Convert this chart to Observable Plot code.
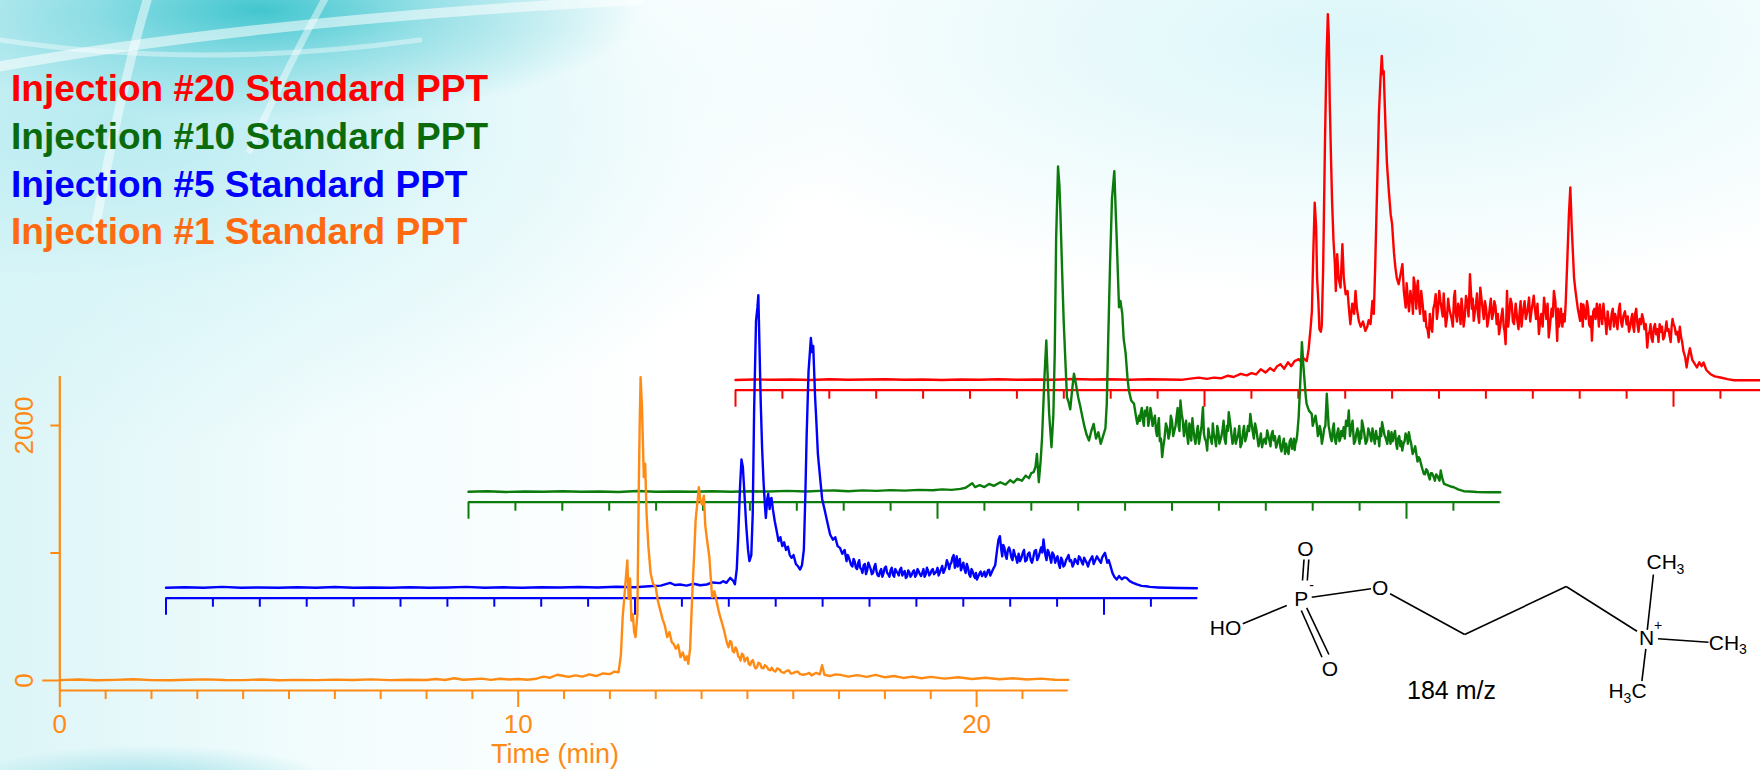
<!DOCTYPE html>
<html>
<head>
<meta charset="utf-8">
<script src="https://cdn.jsdelivr.net/npm/d3@7"></script>
<script src="https://cdn.jsdelivr.net/npm/@observablehq/plot@0.6"></script>
<style>
  html, body { margin: 0; padding: 0; background: #fff; }
  #stage {
    position: relative; width: 1760px; height: 770px; overflow: hidden;
    font-family: "Liberation Sans", Arial, sans-serif;
    background:
      radial-gradient(ellipse 380px 110px at 260px 10px, rgba(40,190,200,0.85) 0%, rgba(90,205,215,0.55) 45%, rgba(190,238,242,0) 100%),
      radial-gradient(ellipse 720px 330px at 120px 120px, rgba(180,234,240,0.95) 0%, rgba(212,244,247,0.6) 50%, rgba(255,255,255,0) 100%),
      radial-gradient(ellipse 190px 40px at 150px 785px, rgba(90,200,215,0.55), rgba(255,255,255,0) 100%),
      radial-gradient(ellipse 700px 260px at 1350px 40px, rgba(218,246,249,0.95), rgba(255,255,255,0) 100%),
      linear-gradient(90deg, #dcf5f7 0%, #f2fcfd 18%, #ffffff 38%);
  }
  #stage svg.layer { position: absolute; left: 0; top: 0; max-width: none !important; }
  .legend { position: absolute; left: 11px; top: 65px; font-weight: bold; font-size: 37px; line-height: 47.8px; white-space: nowrap; }
</style>
</head>
<body>
<div id="stage">
  <svg class="layer" width="1760" height="770" style="pointer-events:none">
    <g fill="none" stroke="#ffffff" stroke-linecap="round">
      <path d="M -20 70 Q 250 20 640 0" stroke-width="10" stroke-opacity="0.55"/>
      <path d="M 150 -10 Q 120 90 95 230" stroke-width="9" stroke-opacity="0.5"/>
      <path d="M 330 -10 Q 290 60 250 150" stroke-width="7" stroke-opacity="0.45"/>
      <path d="M 0 40 Q 200 70 420 40" stroke-width="5" stroke-opacity="0.4"/>
    </g>
  </svg>
  <div class="legend">
    <div style="color:#ff0000">Injection #20 Standard PPT</div>
    <div style="color:#0b6b0b">Injection #10 Standard PPT</div>
    <div style="color:#0000ff">Injection #5 Standard PPT</div>
    <div style="color:#ff6a10">Injection #1 Standard PPT</div>
  </div>
</div>
<script>
// ---------- data: [time (min), intensity] ----------
const injection1 = [[0,3],[0.4,8],[0.8,2],[1.2,5],[1.6,10],[2.0,3],[2.4,2],[2.8,6],[3.2,9],[3.6,4],[4.0,3],[4.4,8],[4.8,2],[5.2,5],[5.6,3],[6.0,7],[6.4,4],[6.8,9],[7.2,3],[7.6,6],[8.0,4],[8.2,12],[8.4,4],[8.6,18],[8.8,6],[9.0,10],[9.2,15],[9.4,5],[9.6,14],[9.8,8],[10.0,12],[10.2,6],[10.4,14],[10.55,30],[10.7,22],[10.85,45],[11.0,35],[11.1,28],[11.25,40],[11.4,30],[11.55,48],[11.7,35],[11.85,55],[12.0,50],[12.1,70],[12.19,65],[12.24,200],[12.28,500],[12.33,720],[12.38,941],[12.41,640],[12.44,800],[12.47,470],[12.5,520],[12.53,380],[12.56,340],[12.6,520],[12.63,1500],[12.65,2000],[12.67,2379],[12.7,2144],[12.74,1595],[12.77,1700],[12.8,1310],[12.84,1050],[12.89,839],[12.94,760],[13.0,733],[13.05,620],[13.1,550],[13.15,480],[13.2,430],[13.25,340],[13.3,380],[13.35,300],[13.39,287],[13.44,250],[13.49,280],[13.54,183],[13.59,220],[13.64,160],[13.68,190],[13.71,131],[13.75,250],[13.8,700],[13.84,1000],[13.87,1255],[13.91,1400],[13.94,1516],[13.97,1420],[14.01,1380],[14.05,1450],[14.08,1220],[14.12,1100],[14.17,967],[14.23,653],[14.28,700],[14.34,601],[14.39,520],[14.45,446],[14.5,380],[14.56,288],[14.62,310],[14.68,230],[14.74,260],[14.8,190],[14.85,157],[14.91,200],[14.97,170],[15.03,130],[15.09,150],[15.15,115],[15.21,105],[15.28,130],[15.35,95],[15.42,110],[15.5,80],[15.57,78],[15.65,95],[15.75,65],[15.85,75],[15.95,55],[16.05,68],[16.15,50],[16.3,52],[16.4,40],[16.5,60],[16.58,48],[16.63,120],[16.68,45],[16.8,35],[16.92,48],[17.03,44],[17.2,30],[17.4,42],[17.6,28],[17.8,44],[18.0,25],[18.2,35],[18.4,20],[18.6,30],[18.8,18],[19.0,28],[19.3,15],[19.6,25],[19.9,12],[20.2,22],[20.5,10],[20.8,18],[21.1,8],[21.4,15],[21.7,6],[22.0,5]];
const injection1Detail = [[14.53,330],[14.59,260],[14.65,300],[14.71,220],[14.77,240],[14.83,180],[14.88,210],[14.94,150],[15.0,180],[15.06,120],[15.12,160],[15.18,95],[15.24,140],[15.31,100],[15.38,120],[15.46,85],[15.53,100],[15.61,70],[15.7,85],[15.8,60],[15.9,80],[16.0,58],[16.1,70],[16.22,45],[16.35,60]];

const injection5 = [[0,4],[0.4,8],[0.8,3],[1.2,10],[1.6,4],[2.0,6],[2.4,3],[2.8,7],[3.2,4],[3.6,9],[4.0,3],[4.4,6],[4.8,4],[5.2,8],[5.6,3],[6.0,6],[6.4,10],[6.8,4],[7.2,7],[7.6,3],[8.0,8],[8.4,5],[8.8,9],[9.2,6],[9.6,11],[10.0,8],[10.3,15],[10.55,20],[10.75,42],[10.85,25],[10.96,29],[11.1,20],[11.25,35],[11.39,23],[11.53,29],[11.65,45],[11.81,40],[11.88,55],[11.95,42],[12.03,81],[12.1,55],[12.13,30],[12.17,150],[12.2,400],[12.24,800],[12.27,1009],[12.3,950],[12.34,700],[12.37,500],[12.41,300],[12.44,212],[12.48,260],[12.51,580],[12.54,1400],[12.58,2094],[12.61,2200],[12.63,2298],[12.66,1800],[12.68,1467],[12.71,1100],[12.74,840],[12.77,650],[12.79,551],[12.82,700],[12.84,740],[12.87,620],[12.89,700],[12.91,708],[12.94,620],[12.98,525],[13.02,450],[13.06,370],[13.1,400],[13.14,330],[13.18,360],[13.22,300],[13.26,326],[13.3,260],[13.34,238],[13.38,260],[13.43,190],[13.48,170],[13.52,146],[13.56,180],[13.6,300],[13.63,700],[13.66,1200],[13.7,1700],[13.75,1962],[13.78,1850],[13.8,1900],[13.84,1500],[13.87,1284],[13.9,1050],[13.94,892],[13.99,700],[14.05,604],[14.1,520],[14.16,421],[14.22,380],[14.27,400],[14.32,330],[14.37,316],[14.42,270],[14.47,300],[14.51,212],[14.56,240],[14.61,180],[14.66,230],[14.71,160],[14.76,200],[14.8,160],[14.85,120],[14.9,190],[14.95,140],[15.0,175],[15.05,110],[15.1,165],[15.15,130],[15.2,95],[15.25,150],[15.3,120],[15.35,170],[15.4,110],[15.45,140],[15.5,105],[15.55,150],[15.6,120],[15.65,146],[15.7,100],[15.75,135],[15.8,90],[15.85,125],[15.9,105],[15.95,140],[16.0,107],[16.05,130],[16.1,95],[16.15,150],[16.2,110],[16.25,135],[16.3,115],[16.35,150],[16.4,120],[16.45,160],[16.5,125],[16.55,175],[16.6,140],[16.65,220],[16.7,150],[16.72,186],[16.77,240],[16.82,160],[16.86,250],[16.9,190],[16.95,140],[17.0,200],[17.05,120],[17.1,160],[17.15,90],[17.2,130],[17.25,80],[17.29,68],[17.34,110],[17.4,95],[17.45,130],[17.5,107],[17.55,145],[17.6,120],[17.65,160],[17.68,180],[17.72,300],[17.75,380],[17.78,408],[17.81,300],[17.85,340],[17.9,260],[17.95,300],[18.0,290],[18.05,220],[18.1,260],[18.15,200],[18.21,212],[18.27,280],[18.32,210],[18.38,270],[18.44,220],[18.49,238],[18.55,300],[18.6,240],[18.66,320],[18.71,382],[18.75,260],[18.8,300],[18.85,238],[18.9,280],[18.96,200],[19.01,250],[19.06,160],[19.11,220],[19.16,180],[19.22,240],[19.27,212],[19.33,170],[19.38,230],[19.44,190],[19.49,240],[19.55,185],[19.6,220],[19.66,170],[19.72,230],[19.78,190],[19.85,250],[19.91,212],[19.96,240],[20.02,277],[20.07,200],[20.13,185],[20.18,120],[20.22,90],[20.27,68],[20.32,95],[20.38,70],[20.43,85],[20.48,81],[20.55,55],[20.62,42],[20.7,30],[20.8,18],[20.9,15],[20.98,10],[21.15,6],[21.34,3],[21.6,1],[21.98,0]];
const injection5Detail = [[14.535,260],[14.585,210],[14.635,170],[14.685,210],[14.735,150],[14.78,220],[14.825,150],[14.875,180],[14.925,110],[14.975,200],[15.025,150],[15.075,120],[15.125,190],[15.175,100],[15.225,130],[15.275,90],[15.325,160],[15.375,120],[15.425,90],[15.475,160],[15.525,90],[15.575,130],[15.625,100],[15.675,160],[15.725,120],[15.775,80],[15.825,140],[15.875,90],[15.925,130],[15.975,90],[16.025,150],[16.075,110],[16.125,120],[16.175,90],[16.225,160],[16.275,100],[16.325,140],[16.375,110],[16.425,130],[16.475,100],[16.525,150],[16.575,120],[16.625,170],[16.685,180],[16.745,200],[16.795,260],[16.84,200],[16.88,170],[16.925,230],[16.975,170],[17.025,150],[17.075,190],[17.125,110],[17.175,150],[17.225,100],[17.27,120],[17.315,90],[17.37,130],[17.425,110],[17.475,90],[17.525,140],[17.575,100],[17.625,140],[17.83,250],[17.875,320],[17.925,230],[17.975,320],[18.025,240],[18.075,300],[18.125,240],[18.18,270],[18.24,240],[18.295,300],[18.35,220],[18.41,280],[18.465,200],[18.52,290],[18.575,220],[18.63,280],[18.685,280],[18.73,320],[18.775,220],[18.825,280],[18.875,200],[18.93,260],[18.985,230],[19.035,190],[19.085,240],[19.135,170],[19.19,220],[19.245,260],[19.3,220],[19.355,190],[19.41,210],[19.465,250],[19.52,210],[19.575,240],[19.63,200],[19.69,210],[19.75,250],[19.815,220],[19.88,230],[19.935,200],[19.99,260],[20.045,240],[20.1,220]];

const injection10 = [[0,3],[0.4,7],[0.8,2],[1.2,6],[1.6,3],[2.0,8],[2.4,4],[2.8,6],[3.2,2],[3.6,9],[4.0,4],[4.4,6],[4.8,3],[5.2,7],[5.6,4],[6.0,8],[6.4,5],[6.8,10],[7.2,6],[7.6,12],[7.8,13],[8.1,8],[8.4,14],[8.7,10],[9.0,16],[9.3,12],[9.6,18],[9.9,15],[10.1,22],[10.3,18],[10.49,26],[10.6,35],[10.74,71],[10.8,40],[10.9,55],[11.0,40],[11.1,65],[11.2,50],[11.34,78],[11.45,60],[11.55,95],[11.62,75],[11.7,105],[11.8,90],[11.88,130],[11.95,110],[12.0,150],[12.05,157],[12.09,200],[12.12,300],[12.16,78],[12.2,250],[12.23,431],[12.28,900],[12.32,1190],[12.35,900],[12.38,620],[12.43,353],[12.47,600],[12.5,1100],[12.53,2000],[12.57,2554],[12.6,2400],[12.62,2200],[12.66,1700],[12.69,1347],[12.73,1000],[12.76,745],[12.8,700],[12.83,650],[12.87,800],[12.91,929],[12.95,850],[13.0,745],[13.04,680],[13.09,590],[13.13,520],[13.18,450],[13.23,405],[13.28,480],[13.33,535],[13.38,420],[13.43,470],[13.48,379],[13.53,440],[13.58,500],[13.61,700],[13.64,1200],[13.68,1800],[13.72,2300],[13.77,2518],[13.8,2200],[13.82,2000],[13.87,1451],[13.9,1500],[13.94,1400],[13.97,1200],[14.01,1095],[14.05,900],[14.08,798],[14.13,720],[14.19,693],[14.23,600],[14.26,536],[14.3,600],[14.33,613],[14.38,560],[14.42,640],[14.47,667],[14.52,580],[14.56,620],[14.61,561],[14.66,480],[14.7,520],[14.74,400],[14.79,275],[14.84,420],[14.9,500],[14.95,460],[15.0,560],[15.05,480],[15.1,600],[15.14,520],[15.18,719],[15.23,560],[15.28,520],[15.32,458],[15.37,540],[15.41,405],[15.46,480],[15.5,380],[15.55,520],[15.6,440],[15.66,667],[15.7,420],[15.75,327],[15.8,440],[15.85,380],[15.89,458],[15.94,360],[15.99,470],[16.03,405],[16.08,500],[16.12,420],[16.17,520],[16.21,627],[16.26,480],[16.32,431],[16.36,380],[16.41,450],[16.46,353],[16.51,460],[16.56,400],[16.62,520],[16.67,614],[16.72,480],[16.77,540],[16.82,431],[16.87,400],[16.92,353],[16.97,420],[17.03,484],[17.08,400],[17.12,450],[17.17,405],[17.22,350],[17.27,420],[17.31,353],[17.36,380],[17.41,300],[17.46,327],[17.51,400],[17.56,340],[17.6,420],[17.63,379],[17.67,450],[17.7,588],[17.74,900],[17.77,1177],[17.8,1000],[17.82,902],[17.85,760],[17.87,693],[17.92,640],[17.98,614],[18.03,560],[18.09,523],[18.13,460],[18.17,484],[18.22,430],[18.27,520],[18.3,772],[18.34,520],[18.38,431],[18.43,500],[18.47,420],[18.52,458],[18.57,400],[18.61,480],[18.66,510],[18.71,560],[18.77,641],[18.82,500],[18.88,379],[18.93,460],[18.98,420],[19.02,480],[19.05,562],[19.1,460],[19.16,405],[19.21,470],[19.25,400],[19.3,431],[19.35,480],[19.4,430],[19.44,500],[19.48,549],[19.53,450],[19.59,379],[19.64,420],[19.68,470],[19.73,445],[19.78,380],[19.82,420],[19.87,360],[19.91,327],[19.96,400],[20.01,440],[20.05,471],[20.1,380],[20.16,327],[20.21,300],[20.26,275],[20.31,220],[20.37,144],[20.42,180],[20.47,130],[20.52,150],[20.58,118],[20.63,140],[20.68,110],[20.73,170],[20.77,100],[20.8,66],[20.87,55],[20.94,45],[21.01,39],[21.1,22],[21.22,8],[21.35,5],[21.5,2],[21.75,0],[22.0,0]];
const injection10Detail = [[14.315,560],[14.355,660],[14.4,520],[14.445,600],[14.495,520],[14.54,660],[14.585,520],[14.635,600],[14.68,440],[14.72,580],[14.765,420],[14.815,360],[14.87,540],[14.925,420],[14.975,600],[15.025,440],[15.075,520],[15.12,660],[15.16,480],[15.205,620],[15.255,440],[15.3,560],[15.345,380],[15.39,500],[15.435,580],[15.48,420],[15.525,460],[15.575,380],[15.63,520],[15.68,460],[15.725,400],[15.775,500],[15.825,420],[15.87,540],[15.915,420],[15.965,520],[16.01,380],[16.055,440],[16.1,560],[16.145,380],[16.19,480],[16.235,560],[16.29,380],[16.34,500],[16.385,420],[16.435,520],[16.485,380],[16.535,520],[16.59,440],[16.645,480],[16.695,540],[16.745,420],[16.795,500],[16.845,360],[16.895,460],[16.945,400],[17.0,380],[17.055,440],[17.1,360],[17.145,480],[17.195,440],[17.245,380],[17.29,440],[17.335,320],[17.385,420],[17.435,380],[17.485,300],[17.535,420],[17.58,360],[17.615,330],[17.65,400],[18.0,520],[18.06,600],[18.11,440],[18.15,520],[18.195,380],[18.245,500],[18.36,480],[18.405,400],[18.45,540],[18.495,380],[18.545,500],[18.59,420],[18.635,440],[18.685,420],[18.74,520],[18.795,440],[18.85,560],[18.905,400],[18.955,500],[19.0,380],[19.035,420],[19.075,520],[19.13,380],[19.185,500],[19.23,440],[19.275,500],[19.325,380],[19.375,420],[19.42,360],[19.46,440],[19.505,500],[19.56,420],[19.615,480],[19.66,380],[19.705,400],[19.755,480],[19.8,340],[19.845,440],[19.89,400],[19.935,380],[19.98,460],[20.03,380],[20.075,420],[20.13,300],[20.185,360],[20.235,240],[20.285,260],[20.34,180],[20.395,140],[20.445,170],[20.495,100],[20.545,150],[20.605,90],[20.655,130],[20.705,90],[20.75,130]];

const injection20 = [[0,2],[0.4,6],[0.8,3],[1.2,5],[1.6,2],[2.0,7],[2.4,3],[2.8,5],[3.2,8],[3.6,3],[4.0,5],[4.4,2],[4.8,6],[5.2,4],[5.6,8],[6.0,3],[6.4,6],[6.8,4],[7.2,9],[7.6,5],[8.0,7],[8.4,4],[8.8,8],[9.2,5],[9.5,3],[9.7,12],[9.88,20],[10.05,10],[10.2,20],[10.35,15],[10.5,35],[10.62,25],[10.77,50],[10.9,38],[11.0,55],[11.1,45],[11.2,86],[11.3,60],[11.4,95],[11.48,73],[11.55,110],[11.62,125],[11.7,90],[11.78,140],[11.85,110],[11.92,150],[12.01,165],[12.07,140],[12.12,170],[12.18,150],[12.22,243],[12.26,400],[12.29,541],[12.32,1000],[12.35,1393],[12.38,1200],[12.4,805],[12.43,600],[12.45,400],[12.48,380],[12.5,426],[12.53,880],[12.57,1900],[12.6,2500],[12.63,2870],[12.65,2700],[12.67,2190],[12.7,1700],[12.72,1406],[12.75,1100],[12.78,910],[12.8,700],[12.83,988],[12.86,800],[12.9,726],[12.94,1066],[12.97,800],[13.01,674],[13.05,700],[13.08,560],[13.11,439],[13.15,600],[13.19,520],[13.22,700],[13.25,560],[13.29,465],[13.33,420],[13.38,460],[13.43,387],[13.47,420],[13.5,470],[13.54,440],[13.58,621],[13.61,520],[13.64,900],[13.68,1500],[13.72,2100],[13.75,2347],[13.78,2544],[13.8,2400],[13.82,2426],[13.86,1982],[13.89,1700],[13.93,1485],[13.97,1300],[14.0,1224],[14.04,1000],[14.07,883],[14.1,800],[14.14,753],[14.18,830],[14.22,910],[14.25,700],[14.29,569],[14.34,620],[14.39,700],[14.43,600],[14.46,805],[14.5,650],[14.53,720],[14.57,622],[14.62,700],[14.68,465],[14.73,420],[14.78,334],[14.83,420],[14.88,560],[14.93,674],[14.98,560],[15.03,620],[15.08,500],[15.12,560],[15.17,491],[15.22,560],[15.27,480],[15.32,648],[15.36,520],[15.41,600],[15.46,440],[15.5,560],[15.55,500],[15.6,620],[15.66,831],[15.7,560],[15.74,465],[15.79,600],[15.83,520],[15.88,726],[15.93,560],[15.98,620],[16.03,420],[16.08,560],[16.13,480],[16.18,620],[16.23,440],[16.28,360],[16.33,500],[16.38,420],[16.42,282],[16.45,700],[16.5,520],[16.55,600],[16.6,440],[16.67,465],[16.72,540],[16.76,420],[16.8,560],[16.85,480],[16.92,648],[16.97,540],[17.02,662],[17.07,480],[17.13,361],[17.18,520],[17.24,648],[17.29,480],[17.34,335],[17.4,560],[17.45,700],[17.48,620],[17.52,308],[17.56,420],[17.6,560],[17.66,520],[17.7,595],[17.73,883],[17.77,1300],[17.8,1511],[17.83,1200],[17.85,1040],[17.88,800],[17.91,700],[17.96,560],[18.01,465],[18.05,540],[18.08,595],[18.13,480],[18.18,560],[18.22,420],[18.26,309],[18.29,540],[18.34,480],[18.39,520],[18.43,595],[18.48,440],[18.53,500],[18.57,361],[18.62,460],[18.68,517],[18.73,420],[18.78,480],[18.83,543],[18.88,460],[18.93,500],[19.0,439],[19.05,380],[19.1,480],[19.14,420],[19.18,517],[19.23,440],[19.28,480],[19.33,517],[19.38,400],[19.44,256],[19.49,380],[19.53,330],[19.58,413],[19.63,360],[19.68,300],[19.73,380],[19.78,320],[19.83,400],[19.87,387],[19.92,340],[19.96,420],[20.0,439],[20.05,360],[20.11,300],[20.16,340],[20.21,230],[20.25,180],[20.28,100],[20.32,200],[20.35,250],[20.4,160],[20.45,130],[20.5,100],[20.55,140],[20.6,110],[20.64,139],[20.7,80],[20.79,47],[20.88,30],[21.0,21],[21.15,8],[21.29,0],[21.6,0],[22.0,0]];
const injection20Detail = [[14.31,760],[14.36,540],[14.41,640],[14.445,520],[14.48,760],[14.515,560],[14.55,780],[14.595,520],[14.65,600],[14.705,540],[14.755,400],[14.805,520],[14.855,380],[14.905,600],[14.955,480],[15.005,700],[15.055,560],[15.1,680],[15.145,420],[15.195,640],[15.245,520],[15.295,420],[15.34,700],[15.385,460],[15.435,560],[15.48,640],[15.525,420],[15.575,660],[15.63,500],[15.68,700],[15.72,640],[15.765,540],[15.81,680],[15.855,450],[15.905,640],[15.955,480],[16.005,560],[16.055,480],[16.105,640],[16.155,520],[16.205,580],[16.255,520],[16.305,420],[16.355,560],[16.4,380],[16.475,420],[16.525,640],[16.575,460],[16.635,600],[16.695,400],[16.74,620],[16.78,500],[16.825,620],[16.885,540],[16.945,460],[16.995,600],[17.045,560],[17.1,600],[17.155,460],[17.21,420],[17.265,560],[17.315,600],[17.37,440],[17.425,500],[17.5,480],[17.54,560],[17.58,480],[17.63,420],[17.68,460],[18.03,600],[18.065,420],[18.105,520],[18.155,620],[18.2,440],[18.24,500],[18.275,420],[18.315,560],[18.365,600],[18.41,420],[18.455,520],[18.505,600],[18.55,460],[18.595,540],[18.65,400],[18.705,560],[18.755,520],[18.805,400],[18.855,600],[18.905,420],[18.965,540],[19.025,500],[19.075,420],[19.12,520],[19.16,380],[19.205,560],[19.255,380],[19.305,440],[19.355,480],[19.41,440],[19.465,360],[19.51,440],[19.555,300],[19.605,440],[19.655,400],[19.705,440],[19.755,420],[19.805,340],[19.85,460],[19.895,400],[19.94,300],[19.98,480],[20.025,420],[20.08,380],[20.135,420],[20.185,300]];

const timeDomain = [0, 22];
const majorTicks = [0, 10, 20];
const minorTicks = [1,2,3,4,5,6,7,8,9,11,12,13,14,15,16,17,18,19,21];
const yTicks = [0, 1000, 2000];
const yTickLabels = [0, 2000];
const xTitle = "Time (min)";

// molecule drawing (local diagram units)
const atoms = [
  {t: "O", x: 105, y: 19}, {t: "P", x: 100.7, y: 69}, {t: "HO", x: 25, y: 97.5},
  {t: "O", x: 129.4, y: 138.5}, {t: "O", x: 179.6, y: 57.5}, {t: "N", x: 446, y: 108},
  {t: "CH", x: 461.2, y: 31.7}, {t: "CH", x: 523.5, y: 112.5},
  {t: "H", x: 415.7, y: 160.8}, {t: "C", x: 438.5, y: 160.8}
];
const smallGlyphs = [
  {t: "-", x: 111, y: 55}, {t: "+", x: 457.5, y: 95},
  {t: "3", x: 480, y: 39}, {t: "3", x: 542.5, y: 119}, {t: "3", x: 427, y: 168}
];
const bonds = [
  [103.5,29,102,50],[108.3,29,106.8,50],
  [86.3,75,42.3,93.3],
  [100.8,80,121.5,126.7],[106.2,77.3,128.4,124],
  [111.2,66.7,170.5,58.3],
  [189.6,63.3,264.2,104],
  [264.2,104,365.7,56],
  [365.7,56,436.5,100.7],
  [446.8,99.3,452.9,44],
  [457.5,108.3,508,111.7],
  [445.3,118.3,441.4,150.7]
];
const massLabel = [{t: "184 m/z", x: 251, y: 160.8}];

// ---------- layout ----------
const K = 0.1275;           // px per intensity unit
const FONT = '"Liberation Sans", Arial, sans-serif';
const stage = document.getElementById("stage");
const legendEl = document.querySelector(".legend");
const merge = (a, b) => a.concat(b).sort((p, q) => p[0] - q[0]);

function place(svg, w, h, left, top) {
  svg.classList.add("layer");
  svg.style.maxWidth = "none";
  svg.style.width = w + "px";
  svg.style.height = h + "px";
  svg.style.left = left + "px";
  svg.style.top = top + "px";
}

function trace(data, color, x0, ppm, axisLine, yMax, main) {
  const W = 1780, H = 770;
  const y0 = axisLine - 10;
  const marks = [
    Plot.ruleY([0], {dy: 10, stroke: color, strokeWidth: 2.2}),
    Plot.axisX({ticks: minorTicks, tickSize: 9, tickFormat: () => "", strokeWidth: 2}),
    Plot.axisX({ticks: majorTicks, tickSize: 17, tickPadding: 7, fontSize: 26,
                tickFormat: main ? d => String(d) : () => "", strokeWidth: 2})
  ];
  if (main) {
    marks.push(
      Plot.ruleX([0], {stroke: color, strokeWidth: 2.2}),
      Plot.axisY({ticks: yTicks.filter(d => d !== 0), tickSize: 9, tickFormat: () => "", strokeWidth: 2}),
      Plot.axisY({ticks: [0], tickSize: 17, tickFormat: () => "", strokeWidth: 2}),
      Plot.text(yTickLabels, {y: d => d, text: d => String(d), frameAnchor: "left", dx: -35,
                              rotate: -90, fontSize: 26, fill: color, textAnchor: "middle", lineAnchor: "middle"}),
      Plot.text([xTitle], {text: d => d, frameAnchor: "bottom", dy: 64, dx: -9,
                           textAnchor: "middle", lineAnchor: "middle", fontSize: 27, fill: color})
    );
  }
  marks.push(Plot.line(data, {x: d => d[0], y: d => d[1], stroke: color, strokeWidth: 2.4}));
  const svg = Plot.plot({
    width: W, height: H,
    marginLeft: x0, marginRight: W - (x0 + 22 * ppm),
    marginBottom: H - axisLine, marginTop: y0 - yMax * K,
    insetBottom: 10,
    x: {domain: timeDomain, label: null},
    y: main ? {domain: [0, yMax], label: null} : {domain: [0, yMax], label: null, axis: null},
    style: {background: "transparent", color: color, fontFamily: FONT, overflow: "visible"},
    marks
  });
  place(svg, W, H, 0, 0);
  stage.insertBefore(svg, legendEl);
}

trace(merge(injection20, injection20Detail), "#ff0000", 735, 46.9, 389.7, 2900, false);
trace(merge(injection10, injection10Detail), "#0b7b0b", 468, 46.9, 501.7, 3000, false);
trace(merge(injection5, injection5Detail), "#0000ff", 165.5, 46.9, 597.7, 3000, false);
trace(merge(injection1, injection1Detail), "#ff8a14", 59.3, 45.84, 690, 2384, true);

// molecule
const mol = Plot.plot({
  width: 560, height: 180, margin: 0,
  x: {domain: [0, 560], range: [0, 560], axis: null},
  y: {domain: [0, 180], range: [0, 180], axis: null},
  style: {background: "transparent", fontFamily: FONT, overflow: "visible"},
  marks: [
    Plot.link(bonds, {x1: d => d[0], y1: d => d[1], x2: d => d[2], y2: d => d[3], stroke: "#000", strokeWidth: 1.6}),
    Plot.text(atoms, {x: "x", y: "y", text: "t", fontSize: 21, fill: "#000"}),
    Plot.text(smallGlyphs, {x: "x", y: "y", text: "t", fontSize: 14, fill: "#000"}),
    Plot.text(massLabel, {x: "x", y: "y", text: "t", fontSize: 25, fill: "#000"})
  ]
});
place(mol, 560, 180, 1200, 530);
stage.appendChild(mol);
</script>
</body>
</html>
